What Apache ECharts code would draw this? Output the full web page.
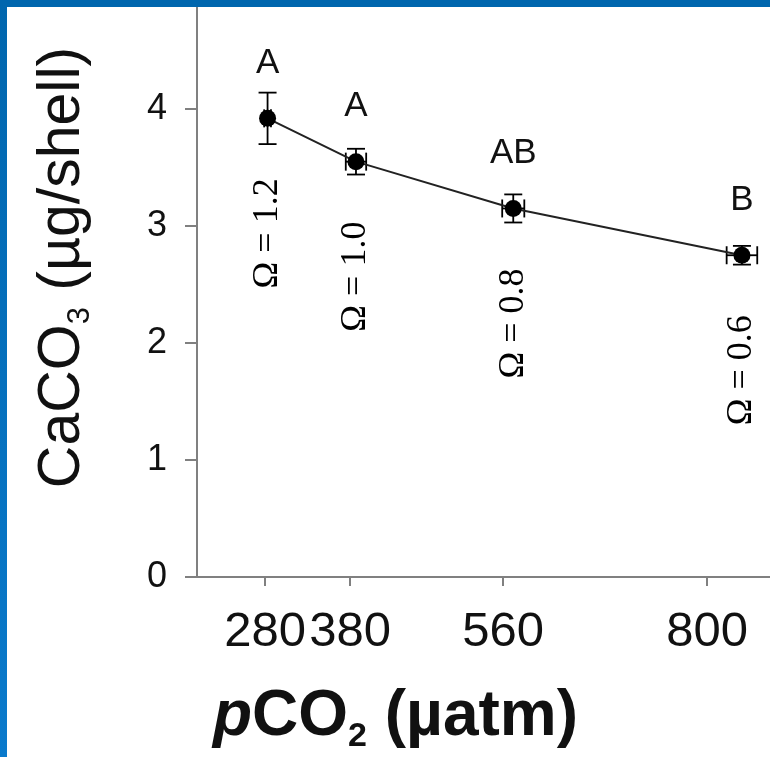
<!DOCTYPE html>
<html><head><meta charset="utf-8">
<script src="https://cdn.jsdelivr.net/npm/echarts@6/dist/echarts.min.js"></script>
<style>html,body{margin:0;padding:0;background:#fff}#c{width:770px;height:757px}</style>
</head><body><div id="c"></div>
<script>
// ---- data ----
const pco2 = [283, 387, 572, 841];
const pco2Err = [4, 12, 13, 18];
const caco3 = [3.92, 3.55, 3.15, 2.75];
const caco3Err = [0.22, 0.11, 0.12, 0.08];
const groupLetters = ['A', 'A', 'AB', 'B'];
const omegaLabels = ['Ω = 1.2', 'Ω = 1.0', 'Ω = 0.8', 'Ω = 0.6'];
const xTicks = [280, 380, 560, 800];

const SANS = 'Liberation Sans, Arial, sans-serif';
const SERIF = 'Liberation Serif, Times New Roman, serif';
const TXT = '#111';

const chart = echarts.init(document.getElementById('c'), null, {renderer: 'canvas'});

const pts = pco2.map((x, i) => [x, caco3[i]]);
const errData = pco2.map((x, i) => [x, caco3[i], pco2Err[i], caco3Err[i], i]);

function renderErr(params, api) {
  const x = api.value(0), y = api.value(1), ex = api.value(2), ey = api.value(3);
  const idx = api.value(4);
  const c = api.coord([x, y]);
  const t = api.coord([x, y + ey]), b = api.coord([x, y - ey]);
  const l = api.coord([x - ex, y]), r = api.coord([x + ex, y]);
  const cap = 9;
  const st = {stroke: '#000', lineWidth: 1.8};
  const ln = (x1, y1, x2, y2) => ({type: 'line', shape: {x1, y1, x2, y2}, style: st});
  return {type: 'group', children: [
    ln(t[0], t[1], b[0], b[1]),
    ln(t[0] - cap, t[1], t[0] + cap, t[1]),
    ln(b[0] - cap, b[1], b[0] + cap, b[1]),
    ln(l[0], l[1], r[0], r[1]),
    ln(l[0], l[1] - cap, l[0], l[1] + cap),
    ln(r[0], r[1] - cap, r[0], r[1] + cap),
    {type: 'text', x: c[0], y: c[1] + 115, rotation: Math.PI / 2,
     style: {text: omegaLabels[idx], fontFamily: SERIF, fontSize: 36, fill: '#000',
             align: 'center', verticalAlign: 'middle'}}
  ]};
}

chart.setOption({
  animation: false,
  backgroundColor: '#fff',
  grid: {left: 197, right: 0, top: -8, bottom: 180, containLabel: false, outerBoundsMode: 'none'},
  xAxis: {
    type: 'value', min: 200, max: 874,
    name: '{i|p}{b|CO}{s|2}{b| (µatm)}',
    nameLocation: 'middle', nameGap: 103,
    nameTextStyle: {
      padding: [0, 176, 0, 0],
      rich: {
        i: {fontFamily: SANS, fontSize: 64, fontWeight: 'bold', fontStyle: 'italic', color: TXT, lineHeight: 74},
        b: {fontFamily: SANS, fontSize: 64, fontWeight: 'bold', color: TXT, lineHeight: 74},
        s: {fontFamily: SANS, fontSize: 34, fontWeight: 'bold', color: TXT, lineHeight: 34, verticalAlign: 'bottom'}
      }
    },
    axisLine: {lineStyle: {color: '#808080', width: 2}},
    axisTick: {show: true, length: 9, lineStyle: {color: '#808080', width: 2}, customValues: xTicks},
    axisLabel: {customValues: xTicks, fontFamily: SANS, fontSize: 49, color: TXT, margin: 31},
    splitLine: {show: false}
  },
  yAxis: {
    type: 'value', min: 0, max: 5, interval: 1,
    name: '{m|CaCO}{s|3}{m| (µg/shell)}',
    nameLocation: 'middle', nameGap: 101, nameRotate: 90,
    nameTextStyle: {
      padding: [0, 0, 0, 34],
      rich: {
        m: {fontFamily: SANS, fontSize: 59, color: TXT, lineHeight: 67},
        s: {fontFamily: SANS, fontSize: 31, color: TXT, lineHeight: 31, verticalAlign: 'bottom'}
      }
    },
    axisLine: {show: true, lineStyle: {color: '#808080', width: 2}},
    axisTick: {show: true, length: 12, lineStyle: {color: '#808080', width: 2}},
    axisLabel: {fontFamily: SANS, fontSize: 36, color: TXT, margin: 30},
    splitLine: {show: false}
  },
  series: [
    {
      type: 'custom', renderItem: renderErr, data: errData, z: 3,
      encode: {x: 0, y: 1}, clip: false
    },
    {
      type: 'line', data: pts, z: 4,
      symbol: 'circle', symbolSize: 17,
      itemStyle: {color: '#000'},
      lineStyle: {color: '#222', width: 2},
      label: {
        show: true, position: 'inside', offset: [0, -55],
        formatter: p => groupLetters[p.dataIndex],
        fontFamily: SANS, fontSize: 35, color: TXT
      }
    }
  ],
  graphic: [
    {type: 'rect', z: 100, shape: {x: 0, y: 0, width: 770, height: 7}, style: {fill: '#0066AE'}},
    {type: 'rect', z: 100, shape: {x: 0, y: 0, width: 7, height: 757},
     style: {fill: new echarts.graphic.LinearGradient(0, 0, 0, 1, [
       {offset: 0, color: '#0066AE'}, {offset: 1, color: '#0A7ACC'}])}}
  ]
});
</script>
</body></html>
